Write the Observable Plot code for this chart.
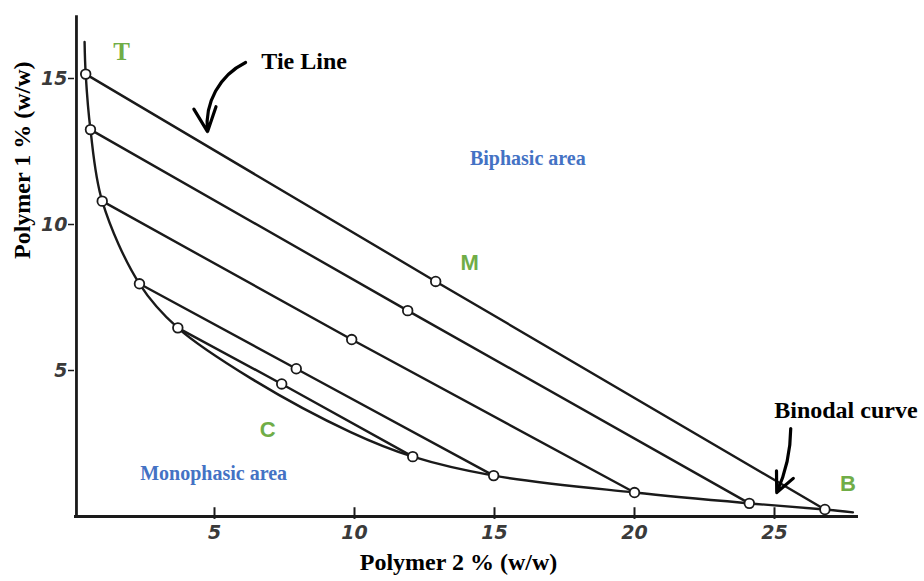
<!DOCTYPE html>
<html>
<head>
<meta charset="utf-8">
<script src="https://cdn.jsdelivr.net/npm/d3@7"></script>
<script src="https://cdn.jsdelivr.net/npm/@observablehq/plot@0.6"></script>
<style>
  html, body { margin: 0; padding: 0; background: #fff; }
  #chart svg { display: block; }
</style>
</head>
<body>
<div id="chart"></div>
<script>
// ---- data ----
const xTicks = [5, 10, 15, 20, 25];
const yTicks = [5, 10, 15];

// binodal curve (Polymer 2 %, Polymer 1 %)
const binodalX = [0.36, 0.40, 0.57, 0.99, 2.32, 3.69, 6.3, 9.86, 12.08, 14.97, 20.0, 24.1, 26.8, 27.8];
const binodalY = [16.25, 15.15, 13.25, 10.8, 7.97, 6.46, 4.73, 2.89, 2.05, 1.40, 0.82, 0.45, 0.24, 0.14];

// tie lines: top-phase point, mixture point, bottom-phase point
const tieTopX = [0.40, 0.57, 0.99, 2.32, 3.69];
const tieTopY = [15.15, 13.25, 10.8, 7.97, 6.46];
const tieMidX = [12.9, 11.9, 9.9, 7.92, 7.40];
const tieMidY = [8.05, 7.05, 6.06, 5.06, 4.54];
const tieBotX = [26.8, 24.1, 20.0, 14.97, 12.08];
const tieBotY = [0.24, 0.45, 0.82, 1.40, 2.05];

// annotations
const letterText = ["T", "M", "C", "B"];
const letterX = [1.68, 14.11, 6.9, 27.62];
const letterY = [15.9, 8.7, 2.95, 1.1];

const areaText = ["Biphasic area", "Monophasic area"];
const areaX = [16.19, 4.97];
const areaY = [12.26, 1.47];

const noteText = ["Tie Line", "Binodal curve"];
const noteX = [8.2, 27.55];
const noteY = [15.6, 3.63];

const arrowX1 = [6.11, 25.58];
const arrowY1 = [15.55, 3.01];
const arrowX2 = [4.75, 25.08];
const arrowY2 = [13.18, 0.82];
const arrowBend = [-35, 12];

const xTitle = "Polymer 2 % (w/w)";
const yTitle = "Polymer 1 % (w/w)";

// ---- build tables ----
const binodal = binodalX.map((x, i) => ({x, y: binodalY[i]}));
const ties = [];
const circles = [];
tieTopX.forEach((_, i) => {
  const pts = [
    {x: tieTopX[i], y: tieTopY[i]},
    {x: tieMidX[i], y: tieMidY[i]},
    {x: tieBotX[i], y: tieBotY[i]}
  ];
  pts.forEach(p => { ties.push({...p, id: i}); circles.push(p); });
});
const letters = letterText.map((t, i) => ({t, x: letterX[i], y: letterY[i]}));
const areas = areaText.map((t, i) => ({t, x: areaX[i], y: areaY[i]}));
const notes = noteText.map((t, i) => ({t, x: noteX[i], y: noteY[i]}));
const arrows = arrowX1.map((_, i) => ({x1: arrowX1[i], y1: arrowY1[i], x2: arrowX2[i], y2: arrowY2[i], bend: arrowBend[i]}));

const ink = "#1a1a1a";
const green = "#70AD47";
const blue = "#4472C4";
const serif = "'Liberation Serif', 'Times New Roman', serif";
const sans = "'Liberation Sans', Arial, sans-serif";
const tickFont = "'DejaVu Sans', sans-serif";

const arrowMarks = arrows.map(a =>
  Plot.arrow([a], {x1: "x1", y1: "y1", x2: "x2", y2: "y2", bend: a.bend, stroke: "black", strokeWidth: 3.2, headLength: 14, headAngle: 50})
);

const chart = Plot.plot({
  width: 924,
  height: 581,
  marginLeft: 74,
  marginRight: 52,
  marginTop: 5,
  marginBottom: 65,
  x: {domain: [0, 28.5], axis: null},
  y: {domain: [0, 17.5], axis: null},
  marks: [
    // axis lines
    Plot.ruleY([0], {x1: 0, x2: 28.0, stroke: ink, strokeWidth: 2.8}),
    Plot.ruleX([0.07], {y1: 0, y2: 17.15, stroke: ink, strokeWidth: 2.8}),
    // x ticks (inward) and labels
    Plot.ruleX(xTicks, {y1: -0.1, y2: 0.3, stroke: ink, strokeWidth: 2}),
    Plot.axisX(xTicks, {tickSize: 0, tickPadding: 9, fontSize: 19, fontStyle: "italic", fontWeight: "bold", fill: "#3a3a3a", fontFamily: tickFont}),
    Plot.axisY(yTicks, {tickSize: 6, tickPadding: 1, fontSize: 19, fontStyle: "italic", fontWeight: "bold", fill: "#3a3a3a", stroke: ink, strokeWidth: 1.5, fontFamily: tickFont}),
    // binodal curve
    Plot.line(binodal, {x: "x", y: "y", curve: "catmull-rom", stroke: ink, strokeWidth: 2.4}),
    // tie lines
    Plot.line(ties, {x: "x", y: "y", z: "id", stroke: ink, strokeWidth: 2.4}),
    Plot.dot(circles, {x: "x", y: "y", r: 4.8, fill: "white", stroke: ink, strokeWidth: 1.8}),
    // arrows
    ...arrowMarks,
    // letters
    Plot.text(letters.filter(d => d.t === "T"), {x: "x", y: "y", text: "t", fill: green, fontSize: 25, fontWeight: "bold", fontFamily: serif}),
    Plot.text(letters.filter(d => d.t !== "T"), {x: "x", y: "y", text: "t", fill: green, fontSize: 22, fontWeight: "bold", fontFamily: sans}),
    // area labels
    Plot.text(areas, {x: "x", y: "y", text: "t", fill: blue, fontSize: 20, fontWeight: "bold", fontFamily: serif}),
    // notes
    Plot.text(notes, {x: "x", y: "y", text: "t", fill: "black", fontSize: 24, fontWeight: "bold", fontFamily: serif}),
    // axis titles
    Plot.text([xTitle], {frameAnchor: "bottom", dx: -15, dy: 53, fontSize: 24, fontWeight: "bold", fontFamily: serif, fill: "black"}),
    Plot.text([yTitle], {frameAnchor: "left", rotate: -90, dx: -52, dy: -2, fontSize: 24, fontWeight: "bold", fontFamily: serif, fill: "black"})
  ]
});
document.getElementById("chart").appendChild(chart);
</script>
</body>
</html>
